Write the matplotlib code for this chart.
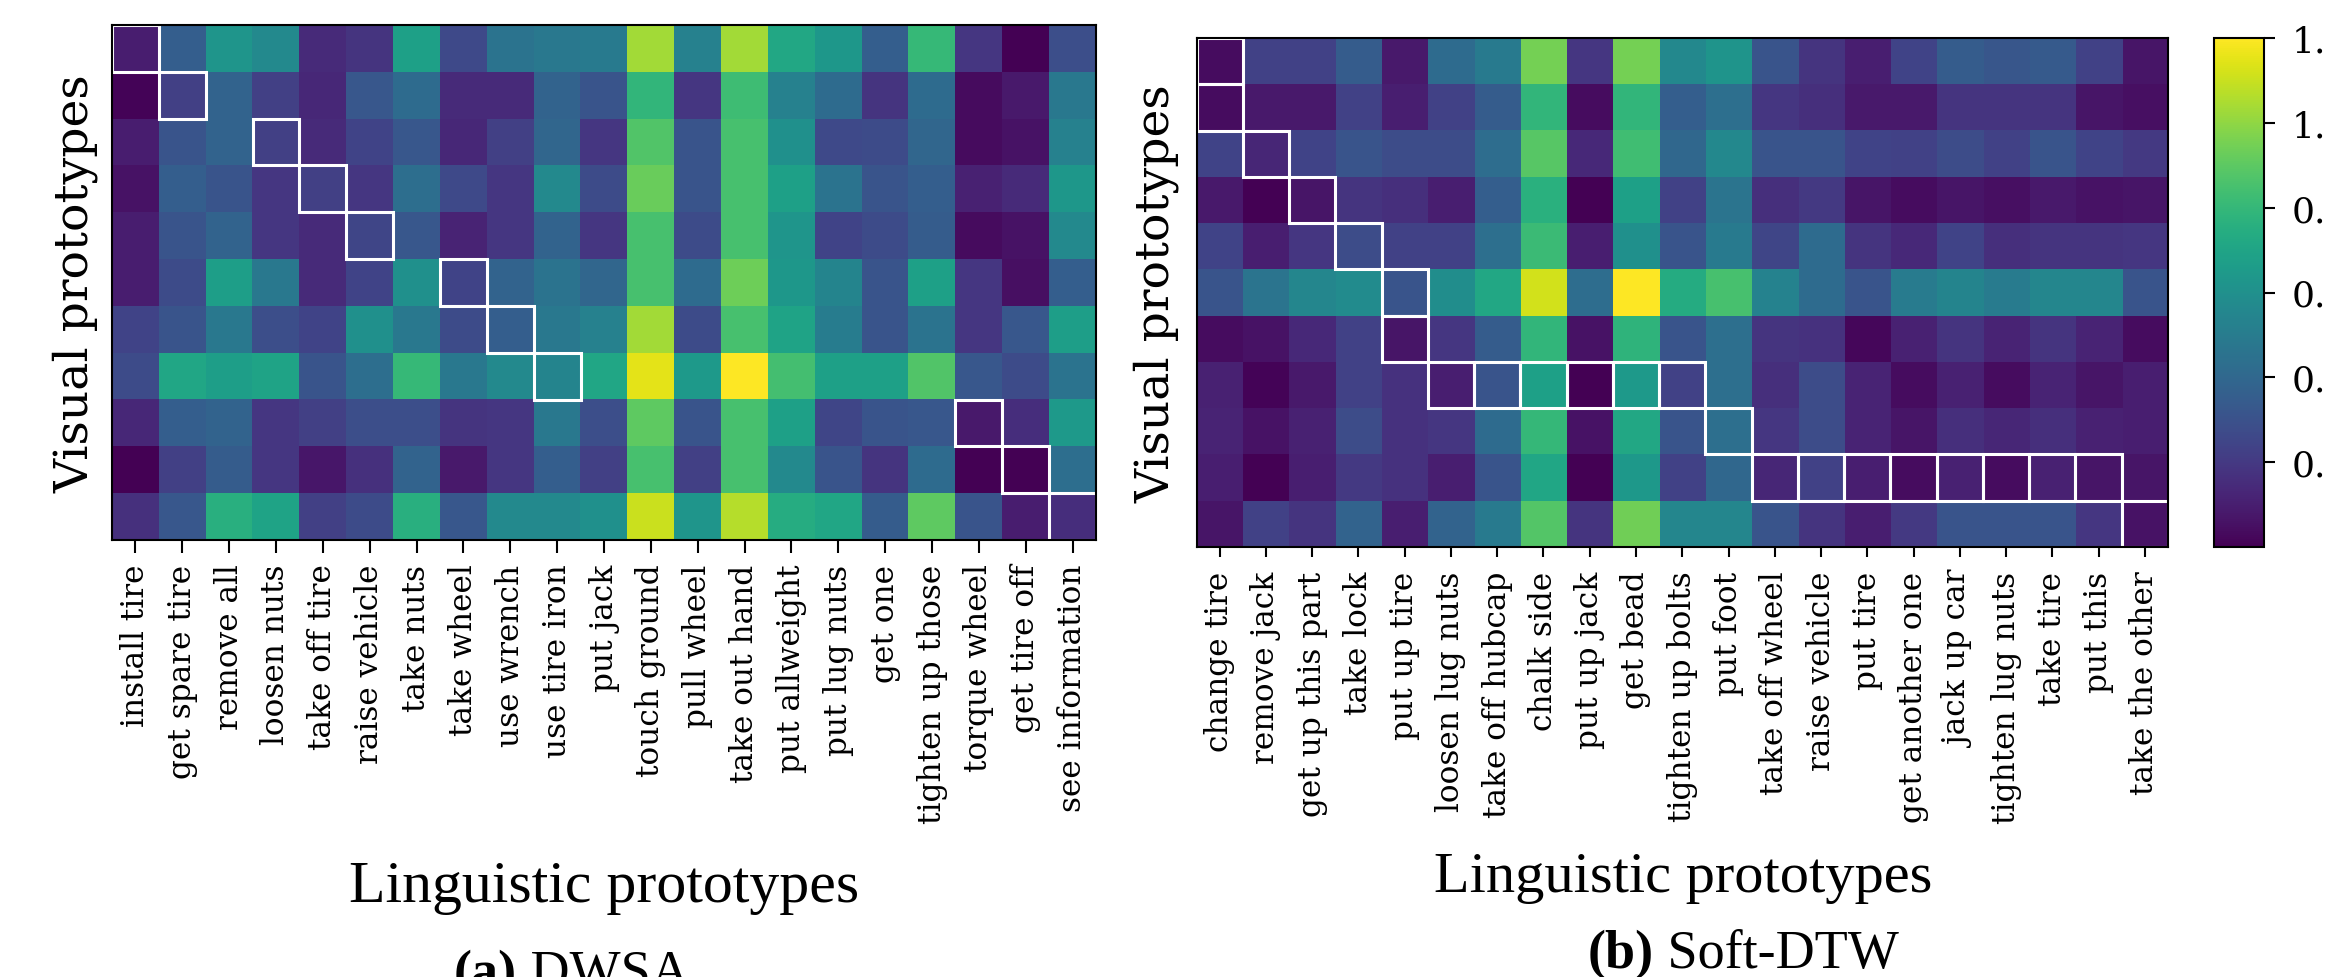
import matplotlib
matplotlib.use("Agg")
import matplotlib.pyplot as plt
from matplotlib.patches import Rectangle
import numpy as np

W, H = 2325, 978

# (a) DWSA
dwsa_labels = ["install tire", "get spare tire", "remove all", "loosen nuts", "take off tire",
               "raise vehicle", "take nuts", "take wheel", "use wrench", "use tire iron",
               "put jack", "touch ground", "pull wheel", "take out hand", "put allweight",
               "put lug nuts", "get one", "tighten up those", "torque wheel", "get tire off",
               "see information"]
dwsa_vals = np.array([
    [0.08, 0.30, 0.52, 0.47, 0.12, 0.15, 0.57, 0.22, 0.38, 0.40, 0.41, 0.86, 0.44, 0.86, 0.60, 0.53, 0.30, 0.67, 0.16, 0.00, 0.24],
    [0.01, 0.19, 0.32, 0.19, 0.11, 0.27, 0.35, 0.12, 0.12, 0.32, 0.26, 0.66, 0.16, 0.69, 0.44, 0.35, 0.15, 0.35, 0.03, 0.07, 0.40],
    [0.08, 0.26, 0.32, 0.19, 0.12, 0.20, 0.27, 0.11, 0.19, 0.33, 0.16, 0.73, 0.26, 0.71, 0.50, 0.22, 0.23, 0.33, 0.03, 0.05, 0.44],
    [0.05, 0.30, 0.26, 0.16, 0.19, 0.16, 0.36, 0.22, 0.16, 0.47, 0.23, 0.77, 0.26, 0.71, 0.57, 0.38, 0.26, 0.30, 0.09, 0.12, 0.53],
    [0.08, 0.26, 0.32, 0.16, 0.12, 0.21, 0.27, 0.10, 0.16, 0.32, 0.16, 0.71, 0.23, 0.71, 0.52, 0.20, 0.23, 0.29, 0.03, 0.05, 0.47],
    [0.08, 0.23, 0.56, 0.40, 0.12, 0.20, 0.50, 0.20, 0.32, 0.38, 0.33, 0.71, 0.35, 0.78, 0.53, 0.45, 0.26, 0.57, 0.16, 0.04, 0.30],
    [0.20, 0.26, 0.40, 0.24, 0.20, 0.50, 0.40, 0.23, 0.30, 0.40, 0.44, 0.86, 0.23, 0.71, 0.58, 0.42, 0.26, 0.38, 0.16, 0.27, 0.56],
    [0.23, 0.59, 0.56, 0.58, 0.26, 0.36, 0.67, 0.40, 0.47, 0.45, 0.59, 0.96, 0.54, 1.00, 0.70, 0.57, 0.57, 0.73, 0.27, 0.23, 0.38],
    [0.11, 0.30, 0.32, 0.16, 0.19, 0.24, 0.24, 0.15, 0.16, 0.40, 0.24, 0.75, 0.26, 0.71, 0.57, 0.21, 0.26, 0.27, 0.07, 0.13, 0.54],
    [0.00, 0.19, 0.29, 0.16, 0.06, 0.14, 0.32, 0.07, 0.16, 0.30, 0.19, 0.71, 0.19, 0.71, 0.47, 0.26, 0.15, 0.35, 0.00, 0.00, 0.36],
    [0.14, 0.27, 0.63, 0.58, 0.19, 0.23, 0.63, 0.27, 0.47, 0.47, 0.50, 0.92, 0.52, 0.89, 0.62, 0.59, 0.29, 0.75, 0.26, 0.08, 0.13],
])
# alignment path, (row, col)
dwsa_path = [(0, 0), (1, 1), (2, 3), (3, 4), (4, 5), (5, 7), (6, 8), (7, 9),
             (8, 18), (9, 19), (10, 20)]

# (b) Soft-DTW
dtw_labels = ["change tire", "remove jack", "get up this part", "take lock", "put up tire",
              "loosen lug nuts", "take off hubcap", "chalk side", "put up jack", "get bead",
              "tighten up bolts", "put foot", "take off wheel", "raise vehicle", "put tire",
              "get another one", "jack up car", "tighten lug nuts", "take tire", "put this",
              "take the other"]
dtw_vals = np.array([
    [0.04, 0.23, 0.23, 0.35, 0.08, 0.42, 0.49, 0.95, 0.19, 0.95, 0.56, 0.62, 0.31, 0.18, 0.10, 0.24, 0.35, 0.32, 0.34, 0.23, 0.07],
    [0.04, 0.08, 0.08, 0.23, 0.10, 0.23, 0.35, 0.79, 0.04, 0.79, 0.36, 0.44, 0.19, 0.16, 0.08, 0.08, 0.18, 0.18, 0.18, 0.07, 0.05],
    [0.24, 0.13, 0.24, 0.31, 0.28, 0.28, 0.43, 0.89, 0.14, 0.83, 0.40, 0.56, 0.31, 0.31, 0.24, 0.23, 0.28, 0.23, 0.31, 0.24, 0.20],
    [0.08, 0.00, 0.07, 0.18, 0.16, 0.10, 0.36, 0.76, 0.00, 0.68, 0.23, 0.46, 0.16, 0.20, 0.07, 0.04, 0.07, 0.05, 0.08, 0.06, 0.07],
    [0.24, 0.10, 0.19, 0.28, 0.23, 0.23, 0.44, 0.82, 0.10, 0.60, 0.31, 0.49, 0.25, 0.42, 0.18, 0.14, 0.24, 0.16, 0.18, 0.18, 0.19],
    [0.31, 0.46, 0.55, 0.58, 0.31, 0.59, 0.72, 1.12, 0.43, 1.20, 0.74, 0.85, 0.53, 0.42, 0.31, 0.50, 0.54, 0.50, 0.55, 0.55, 0.31],
    [0.04, 0.06, 0.14, 0.23, 0.07, 0.19, 0.35, 0.79, 0.06, 0.78, 0.31, 0.44, 0.18, 0.17, 0.02, 0.11, 0.18, 0.12, 0.18, 0.12, 0.04],
    [0.11, 0.01, 0.08, 0.23, 0.17, 0.10, 0.31, 0.68, 0.00, 0.65, 0.23, 0.44, 0.16, 0.28, 0.12, 0.04, 0.11, 0.04, 0.12, 0.07, 0.10],
    [0.12, 0.06, 0.11, 0.28, 0.17, 0.19, 0.42, 0.80, 0.06, 0.72, 0.31, 0.44, 0.19, 0.28, 0.12, 0.07, 0.16, 0.13, 0.16, 0.11, 0.10],
    [0.10, 0.00, 0.10, 0.20, 0.17, 0.10, 0.31, 0.71, 0.00, 0.64, 0.23, 0.40, 0.13, 0.23, 0.10, 0.04, 0.11, 0.04, 0.11, 0.07, 0.07],
    [0.07, 0.23, 0.18, 0.38, 0.10, 0.38, 0.49, 0.88, 0.18, 0.94, 0.55, 0.55, 0.31, 0.18, 0.10, 0.20, 0.31, 0.31, 0.31, 0.19, 0.06],
])
dtw_path = [(0, 0), (1, 0), (2, 1), (3, 2), (4, 3), (5, 4), (6, 4),
            (7, 5), (7, 6), (7, 7), (7, 8), (7, 9), (7, 10), (8, 11),
            (9, 12), (9, 13), (9, 14), (9, 15), (9, 16), (9, 17), (9, 18), (9, 19),
            (10, 20)]
cbar_ticks = [0.2, 0.4, 0.6, 0.8, 1.0, 1.2]

tick_font = "DejaVu Serif"
cap_font = "Liberation Serif"


def heat(ax, vals, path, labels, vmax, tick_len, pad, labelpad):
    im = ax.imshow(vals, cmap="viridis", aspect="auto", vmin=0, vmax=vmax,
                   interpolation="nearest")
    for r, c in path:
        ax.add_patch(Rectangle((c - 0.5, r - 0.5), 1, 1, fill=False,
                               ec="white", lw=2.2))
    ax.set_xticks(range(len(labels)))
    ax.set_xticklabels(labels, rotation=90, family=tick_font, fontsize=22.5)
    ax.set_yticks([])
    ax.tick_params(axis="x", length=tick_len, width=1.5, pad=pad)
    ax.set_ylabel("Visual prototypes", family=tick_font, fontsize=34,
                  labelpad=labelpad)
    for s in ax.spines.values():
        s.set_linewidth(1.5)
    return im


fig = plt.figure(figsize=(W / 100, H / 100), dpi=100)

ax1 = fig.add_axes([112 / W, 1 - 541 / H, 984 / W, 515 / H])
heat(ax1, dwsa_vals, dwsa_path, dwsa_labels, 1.0, 9, 8, 10)

ax2 = fig.add_axes([1196.5 / W, 1 - 548 / H, 971.5 / W, 509 / H])
im2 = heat(ax2, dtw_vals, dtw_path, dtw_labels, 1.2, 7, 10, 12)

cax = fig.add_axes([2214 / W, 1 - 548 / H, 50 / W, 509 / H])
cb = fig.colorbar(im2, cax=cax, ticks=cbar_ticks)
cb.outline.set_linewidth(1.5)
cb.ax.tick_params(length=8, width=1.5, pad=12)
cb.ax.set_yticklabels([f"{t:.1f}" for t in cbar_ticks], family=tick_font, fontsize=26)

# axis titles under the tick labels
fig.text(604 / W, 1 - 902 / H, "Linguistic prototypes", family=cap_font,
         fontsize=43, ha="center", va="baseline")
fig.text(1683 / W, 1 - 892 / H, "Linguistic prototypes", family=cap_font,
         fontsize=42, ha="center", va="baseline")

# sub-captions, bold letter then name
ta = fig.text(454 / W, 1 - 988 / H, "(a)", family=cap_font, fontsize=39,
              fontweight="bold", ha="left", va="baseline")
ax1.annotate(" DWSA", xy=(1, 0), xycoords=ta, family=cap_font,
             fontsize=39, ha="left", va="bottom", annotation_clip=False)
tb = fig.text(1588 / W, 1 - 968 / H, "(b)", family=cap_font, fontsize=39,
              fontweight="bold", ha="left", va="baseline")
ax1.annotate(" Soft-DTW", xy=(1, 0), xycoords=tb, family=cap_font,
             fontsize=39, ha="left", va="bottom", annotation_clip=False)

fig.savefig("out.png", dpi=100)
